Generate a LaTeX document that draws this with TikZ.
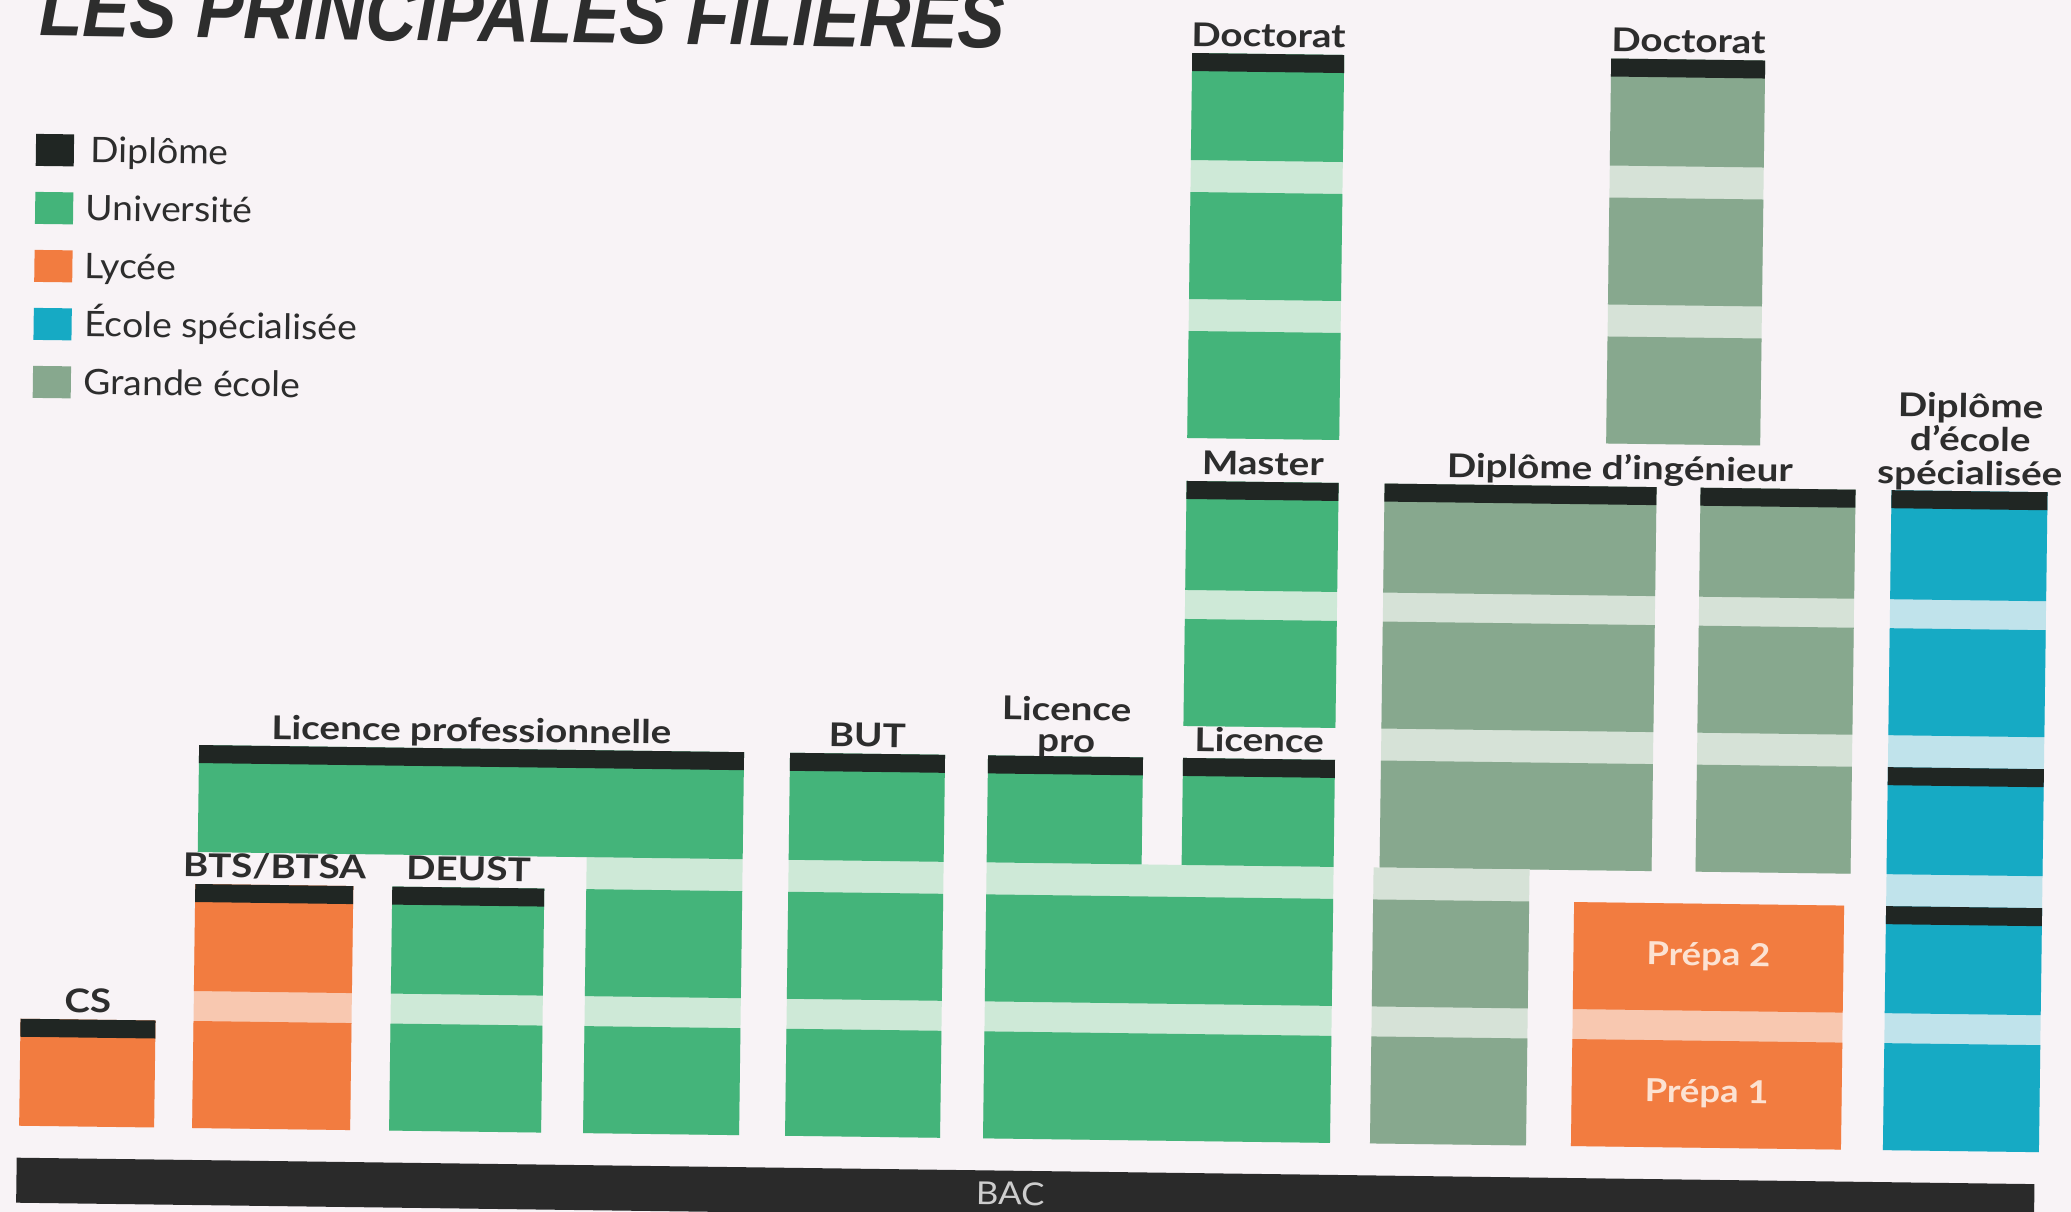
\documentclass[tikz,border=0pt]{standalone}
\usepackage{fontspec}
\setmainfont{Lato}
\newfontfamily\titlefont{Liberation Sans}
\definecolor{cPaper}{RGB}{248,243,246}
\definecolor{cUni}{RGB}{68,180,122}
\definecolor{cUniL}{RGB}{206,233,215}
\definecolor{cGe}{RGB}{135,168,142}
\definecolor{cGeL}{RGB}{214,226,215}
\definecolor{cLyc}{RGB}{242,124,64}
\definecolor{cLycL}{RGB}{248,200,176}
\definecolor{cEco}{RGB}{22,170,196}
\definecolor{cEcoL}{RGB}{192,227,235}
\definecolor{cDip}{RGB}{32,38,35}
\definecolor{cBac}{RGB}{42,42,42}
\definecolor{cText}{RGB}{45,45,45}
\begin{document}
\begin{tikzpicture}[x=0.01cm,y=-0.01cm,
  lbl/.style={font=\fontsize{9.3}{8.8}\selectfont\bfseries, text=cText, inner sep=0, anchor=base, xscale=1.18},
  multi/.style={lbl, anchor=south, align=center, execute at begin node={\setlength{\lineskiplimit}{-10pt}}},
  leg/.style={font=\fontsize{10}{12}\selectfont, text=cText, inner sep=0, anchor=base west, xscale=1.06},
  prepa/.style={font=\fontsize{9}{10}\selectfont\bfseries, text={rgb,255:red,252;green,226;blue,210}, inner sep=0, xscale=1.15}]
\useasboundingbox (0,0) rectangle (2071,1212);
\fill[cPaper] (0,0) rectangle (2071,1212);
\clip (0,0) rectangle (2071,1212);
\begin{scope}[rotate around={-0.75:(1035,606)}, transform shape]
% titre
\node[anchor=base west, inner sep=0, xscale=0.875, text=cText, font=\titlefont\fontsize{23}{25}\selectfont\bfseries\itshape] (titre) at (31,49) {LES PRINCIPALES FILIERES};
% legende
\fill[cDip] (30,147) rectangle (68,179);
\node[leg] (lgdip) at (84,175) {Diplôme};
\fill[cUni] (30,205) rectangle (68,237);
\node[leg] (lguni) at (80,233) {Université};
\fill[cLyc] (30,263) rectangle (68,295);
\node[leg] (lglyc) at (80,291) {Lycée};
\fill[cEco] (30,321) rectangle (68,353);
\node[leg] (lgeco) at (80,349) {École spécialisée};
\fill[cGe] (30,379) rectangle (68,411);
\node[leg] (lgge) at (80,407) {Grande école};
% CS
\fill[cLyc] (26,1032) rectangle (161,1139);
\fill[cDip] (26,1032) rectangle (161,1050);
\node[lbl] (cs) at (93,1025) {CS};
% BTS/BTSA
\fill[cLycL] (199,895) rectangle (357,1139);
\fill[cLyc] (199,895) rectangle (357,1002);
\fill[cLyc] (199,1032) rectangle (357,1139);
\fill[cDip] (199,895) rectangle (357,913);
\node[lbl] (bts) at (278,888) {BTS/BTSA};
% DEUST
\fill[cUniL] (396,895) rectangle (548,1139);
\fill[cUni] (396,895) rectangle (548,1002);
\fill[cUni] (396,1032) rectangle (548,1139);
\fill[cDip] (396,895) rectangle (548,913);
\node[lbl] (deust) at (472,888) {DEUST};
% Licence professionnelle
\fill[cUniL] (590,863) rectangle (746,1139);
\fill[cUni] (201,756) rectangle (746,863);
\fill[cUni] (590,895) rectangle (746,1002);
\fill[cUni] (590,1032) rectangle (746,1139);
\fill[cDip] (201,756) rectangle (746,774);
\node[lbl] (lpro) at (473,749) {Licence professionnelle};
% BUT
\fill[cUniL] (792,756) rectangle (947,1139);
\fill[cUni] (792,756) rectangle (947,863);
\fill[cUni] (792,895) rectangle (947,1002);
\fill[cUni] (792,1032) rectangle (947,1139);
\fill[cDip] (792,756) rectangle (947,774);
\node[lbl] (but) at (869,749) {BUT};
% Licence pro et Licence
\fill[cUniL] (990,863) rectangle (1337,1139);
\fill[cUni] (990,756) rectangle (1145,863);
\fill[cUni] (1185,756) rectangle (1337,863);
\fill[cUni] (990,895) rectangle (1337,1002);
\fill[cUni] (990,1032) rectangle (1337,1139);
\fill[cDip] (990,756) rectangle (1145,774);
\fill[cDip] (1185,756) rectangle (1337,774);
\node[multi, font=\fontsize{9.3}{9}\selectfont\bfseries] (licpro) at (1068,758) {Licence\\pro};
\node[lbl] (lic) at (1261,749) {Licence};
% Master
\fill[cUniL] (1185,479) rectangle (1337,724);
\fill[cUni] (1185,479) rectangle (1337,588);
\fill[cUni] (1185,617) rectangle (1337,724);
\fill[cDip] (1185,479) rectangle (1337,497);
\node[lbl] (master) at (1261,472) {Master};
% Doctorat universite
\fill[cUniL] (1185,51) rectangle (1337,436);
\fill[cUni] (1185,51) rectangle (1337,158);
\fill[cUni] (1185,190) rectangle (1337,297);
\fill[cUni] (1185,329) rectangle (1337,436);
\fill[cDip] (1185,51) rectangle (1337,69);
\node[lbl] (docuni) at (1261,44) {Doctorat};
% Diplome d'ingenieur
\fill[cGeL] (1383,479) rectangle (1655,863);
\fill[cGe] (1383,479) rectangle (1655,588);
\fill[cGe] (1383,617) rectangle (1655,724);
\fill[cGe] (1383,756) rectangle (1655,863);
\fill[cDip] (1383,479) rectangle (1655,497);
\fill[cGeL] (1377,863) rectangle (1533,1139);
\fill[cGe] (1377,895) rectangle (1533,1002);
\fill[cGe] (1377,1032) rectangle (1533,1139);
\fill[cGeL] (1699,479) rectangle (1854,863);
\fill[cGe] (1699,479) rectangle (1854,588);
\fill[cGe] (1699,617) rectangle (1854,724);
\fill[cGe] (1699,756) rectangle (1854,863);
\fill[cDip] (1699,479) rectangle (1854,497);
\node[lbl] (inge) at (1618,472) {Diplôme d’ingénieur};
% Doctorat grande ecole
\fill[cGeL] (1604,51) rectangle (1758,436);
\fill[cGe] (1604,51) rectangle (1758,158);
\fill[cGe] (1604,190) rectangle (1758,297);
\fill[cGe] (1604,329) rectangle (1758,436);
\fill[cDip] (1604,51) rectangle (1758,69);
\node[lbl] (docge) at (1681,44) {Doctorat};
% Prepa
\fill[cLycL] (1578,895) rectangle (1848,1139);
\fill[cLyc] (1578,895) rectangle (1848,1002);
\fill[cLyc] (1578,1032) rectangle (1848,1139);
\node[prepa] (prepa2) at (1713,948) {Prépa 2};
\node[prepa] (prepa1) at (1713,1085) {Prépa 1};
% Ecole specialisee
\fill[cEcoL] (1890,479) rectangle (2046,1139);
\fill[cEco] (1890,479) rectangle (2046,588);
\fill[cEco] (1890,617) rectangle (2046,724);
\fill[cEco] (1890,756) rectangle (2046,863);
\fill[cEco] (1890,895) rectangle (2046,1002);
\fill[cEco] (1890,1032) rectangle (2046,1139);
\fill[cDip] (1890,479) rectangle (2046,497);
\fill[cDip] (1890,756) rectangle (2046,774);
\fill[cDip] (1890,895) rectangle (2046,913);
\node[multi, font=\fontsize{9.3}{9.6}\selectfont\bfseries] (ecspe) at (1968,479) {Diplôme\\d’école\\spécialisée};
% BAC
\fill[cBac] (24,1171) rectangle (2042,1216);
\node[font=\fontsize{9}{10}\selectfont, text={rgb,255:red,205;green,205;blue,205}, inner sep=0, xscale=1.1] (bac) at (1018,1194) {BAC};
\end{scope}
\end{tikzpicture}
\end{document}
